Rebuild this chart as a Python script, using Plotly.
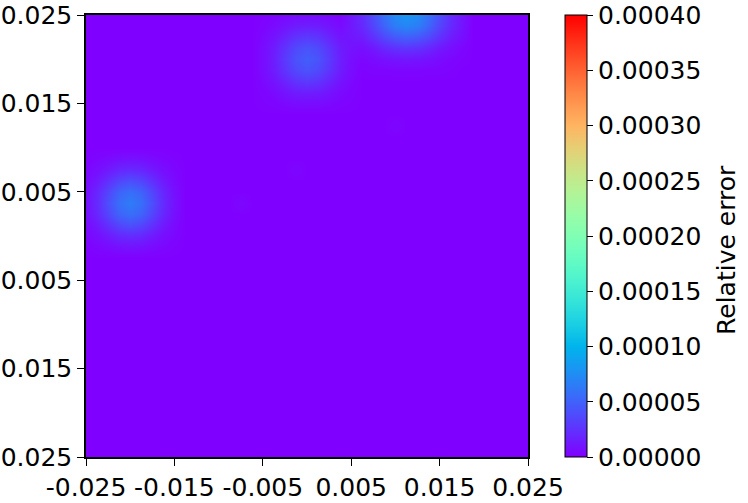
import numpy as np
import plotly.graph_objects as go

# grid of the error map (step 0.00125 in both directions)
grid_x = np.round(np.arange(-0.025, 0.025 + 1e-9, 0.00125), 5)
grid_y = np.round(np.arange(-0.025, 0.025 + 1e-9, 0.00125), 5)

# hot spots: centre (x, y) and local patch of values (x1e-5),
# patch rows go from top (high y) to bottom
spot_left_center = (-0.02, 0.00375)
spot_left = [[0.1, 0.3, 0.5, 0.8, 0.9, 0.8, 0.5, 0.3, 0.1],
             [0.3, 0.7, 1.3, 1.9, 2.1, 1.9, 1.3, 0.7, 0.3],
             [0.5, 1.3, 2.4, 3.5, 4.0, 3.5, 2.4, 1.3, 0.5],
             [0.8, 1.9, 3.5, 5.1, 5.7, 5.1, 3.5, 1.9, 0.8],
             [0.9, 2.1, 4.0, 5.7, 6.5, 5.7, 4.0, 2.1, 0.9],
             [0.8, 1.9, 3.5, 5.1, 5.7, 5.1, 3.5, 1.9, 0.8],
             [0.5, 1.3, 2.4, 3.5, 4.0, 3.5, 2.4, 1.3, 0.5],
             [0.3, 0.7, 1.3, 1.9, 2.1, 1.9, 1.3, 0.7, 0.3],
             [0.1, 0.3, 0.5, 0.8, 0.9, 0.8, 0.5, 0.3, 0.1]]

spot_mid_center = (0.0, 0.02)
spot_mid = [[0.1, 0.2, 0.4, 0.6, 0.6, 0.6, 0.4, 0.2, 0.1],
            [0.2, 0.5, 1.0, 1.4, 1.5, 1.4, 1.0, 0.5, 0.2],
            [0.4, 1.0, 1.8, 2.6, 2.9, 2.6, 1.8, 1.0, 0.4],
            [0.6, 1.4, 2.6, 3.7, 4.2, 3.7, 2.6, 1.4, 0.6],
            [0.6, 1.5, 2.9, 4.2, 4.8, 4.2, 2.9, 1.5, 0.6],
            [0.6, 1.4, 2.6, 3.7, 4.2, 3.7, 2.6, 1.4, 0.6],
            [0.4, 1.0, 1.8, 2.6, 2.9, 2.6, 1.8, 1.0, 0.4],
            [0.2, 0.5, 1.0, 1.4, 1.5, 1.4, 1.0, 0.5, 0.2],
            [0.1, 0.2, 0.4, 0.6, 0.6, 0.6, 0.4, 0.2, 0.1]]

spot_top_center = (0.01125, 0.025)
spot_top = [[1.1, 2.2, 3.9, 5.8, 7.4, 8.0, 7.4, 5.8, 3.9, 2.2, 1.1],
            [1.0, 2.0, 3.4, 5.1, 6.5, 7.0, 6.5, 5.1, 3.4, 2.0, 1.0],
            [0.7, 1.4, 2.4, 3.6, 4.5, 4.9, 4.5, 3.6, 2.4, 1.4, 0.7],
            [0.3, 0.7, 1.2, 1.9, 2.4, 2.6, 2.4, 1.9, 1.2, 0.7, 0.3],
            [0.1, 0.3, 0.5, 0.8, 1.0, 1.1, 1.0, 0.8, 0.5, 0.3, 0.1],
            [0.0, 0.1, 0.2, 0.2, 0.3, 0.3, 0.3, 0.2, 0.2, 0.1, 0.0]]

# faint single points
faint_x = [-0.0075, 0.01, -0.00125]
faint_y = [0.00375, 0.0125, 0.0075]
faint_v = [0.4, 0.3, 0.3]

tick_vals = [-0.025, -0.015, -0.005, 0.005, 0.015, 0.025]
tick_text = ['-0.025', '-0.015', '-0.005', '0.005', '0.015', '0.025']
cbar_vals = [0, 0.00005, 0.0001, 0.00015, 0.0002, 0.00025, 0.0003, 0.00035, 0.0004]
cbar_label = 'Relative error'


def idx(arr, v):
    return int(np.argmin(np.abs(arr - v)))


def add_patch(z, center, patch, top_row_offset=None):
    rows = len(patch)
    cols = len(patch[0])
    ci = idx(grid_x, center[0])
    cj = idx(grid_y, center[1])
    top = rows // 2 if top_row_offset is None else top_row_offset
    for r in range(rows):
        j = cj + top - r
        if j < 0 or j >= len(grid_y):
            continue
        for c in range(cols):
            i = ci - cols // 2 + c
            if 0 <= i < len(grid_x):
                z[j, i] += patch[r][c] * 1e-5


z = np.zeros((len(grid_y), len(grid_x)))
add_patch(z, spot_left_center, spot_left)
add_patch(z, spot_mid_center, spot_mid)
add_patch(z, spot_top_center, spot_top, top_row_offset=0)
for fx, fy, fv in zip(faint_x, faint_y, faint_v):
    z[idx(grid_y, fy), idx(grid_x, fx)] += fv * 1e-5

# matplotlib 'rainbow' colormap
stops = np.linspace(0, 1, 21)
rainbow = []
for t in stops:
    r = min(1, abs(2 * t - 0.5))
    g = np.sin(np.pi * t)
    b = np.cos(np.pi * t / 2)
    rainbow.append([float(t), f'rgb({int(round(r*255))},{int(round(g*255))},{int(round(b*255))})'])

font = dict(family='DejaVu Sans', size=25, color='black')

fig = go.Figure()
fig.add_trace(go.Heatmap(
    x=grid_x, y=grid_y, z=z,
    zmin=0, zmax=0.0004,
    zsmooth='best',
    colorscale=rainbow,
    colorbar=dict(
        x=(565 - 86) / 442, xanchor='left', xref='paper', xpad=0,
        y=0.5, yanchor='middle', len=1, lenmode='fraction', ypad=0,
        thickness=22, outlinewidth=1, outlinecolor='black',
        tickvals=cbar_vals, tickformat='.5f',
        ticks='outside', ticklen=6, tickcolor='black', tickwidth=1,
        tickfont=font,
    ),
    hoverinfo='skip',
))

# colorbar label as a rotated annotation (keeps the colorbar from pushing margins)
fig.add_annotation(
    text=cbar_label, xref='paper', yref='paper',
    x=(726 - 86) / 442, y=1 - (250 - 15) / 442,
    xanchor='center', yanchor='middle', textangle=-90,
    showarrow=False, font=font,
)

axis = dict(
    showgrid=False, zeroline=False,
    showline=True, linecolor='black', linewidth=1.5, mirror=True,
    ticks='outside', ticklen=7, tickwidth=1.2, tickcolor='black',
    tickvals=tick_vals, ticktext=tick_text, tickfont=font,
    range=[-0.025, 0.025], automargin=False,
)

fig.update_layout(
    width=748, height=503,
    margin=dict(l=86, r=220, t=15, b=46),
    paper_bgcolor='white', plot_bgcolor='white',
    font=font,
    xaxis=axis,
    yaxis=axis,
)

# drop the default page margin so the figure sits at the window's corner
fig.write_html("out.html", config={'displayModeBar': False},
               post_script="document.body.style.margin='0';")
